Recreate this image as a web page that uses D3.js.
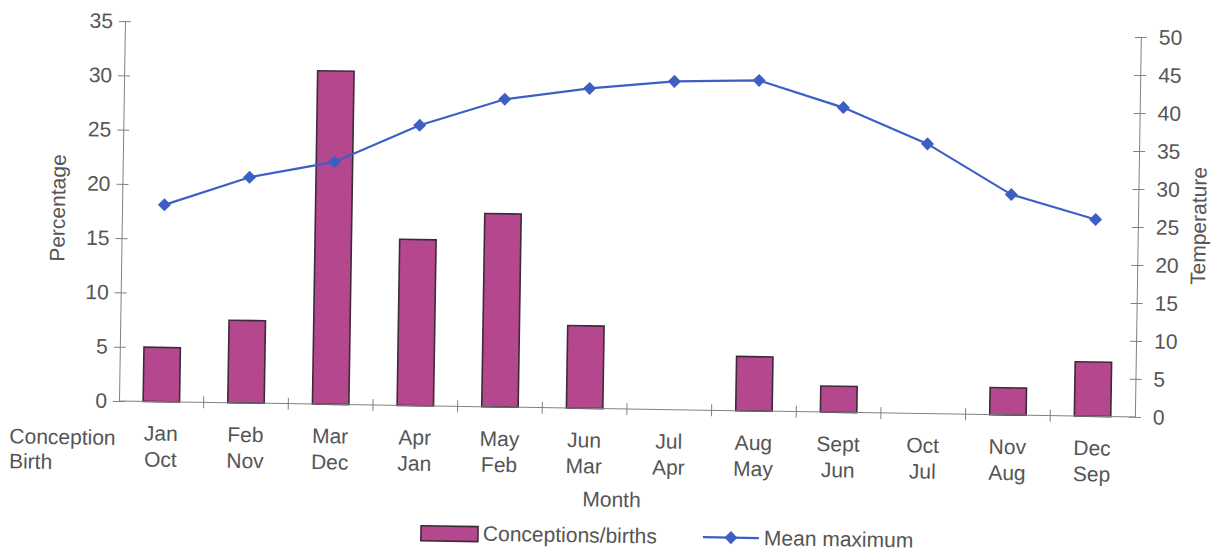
<!DOCTYPE html>
<html>
<head>
<meta charset="utf-8">
<script src="https://cdn.jsdelivr.net/npm/d3@7"></script>
<style>
  body { margin: 0; background: #fff; }
  svg text { font-family: "Liberation Sans", Arial, sans-serif; fill: #555; }
</style>
</head>
<body>
<svg id="chart" width="1211" height="550"></svg>
<script>
// Month of conception and the matching month of birth
const conceptionMonths = ["Jan", "Feb", "Mar", "Apr", "May", "Jun", "Jul", "Aug", "Sept", "Oct", "Nov", "Dec"];
const birthMonths = ["Oct", "Nov", "Dec", "Jan", "Feb", "Mar", "Apr", "May", "Jun", "Jul", "Aug", "Sep"];

// Share of conceptions/births per month (%)
const conceptionsPct = [5.0, 7.6, 30.7, 15.3, 17.8, 7.6, 0, 5.0, 2.4, 0, 2.5, 5.0];
// Mean maximum temperature per month
const meanMaxTemp = [25.9, 29.7, 31.9, 36.9, 40.5, 42.1, 43.2, 43.5, 40.1, 35.5, 29.0, 25.9];

const pctTicks = [0, 5, 10, 15, 20, 25, 30, 35];
const tempTicks = [0, 5, 10, 15, 20, 25, 30, 35, 40, 45, 50];

const legendLabels = ["Conceptions/births", "Mean maximum"];

const barColor = "#b5478e";
const barStroke = "#3d2a3a";
const lineColor = "#3d5fc4";
const axisColor = "#808080";
const fontSize = "21px";

const plot = { left: 119, right: 1135, top: 21, bottom: 401 };

const svg = d3.select("#chart");
// whole figure sits slightly tilted on the page
const g = svg.append("g")
  .attr("transform", `rotate(0.9, ${plot.left}, ${plot.bottom})`);

const x = d3.scaleBand()
  .domain(conceptionMonths)
  .range([plot.left, plot.right])
  .padding(0);

const yPct = d3.scaleLinear().domain([0, 35]).range([plot.bottom, plot.top]);
const yTemp = d3.scaleLinear().domain([0, 50]).range([plot.bottom, plot.top]);

const barFrac = 0.43;
const bw = x.bandwidth();

// Bars
g.append("g")
  .selectAll("rect")
  .data(conceptionMonths.map((m, i) => ({ m, v: conceptionsPct[i] })).filter(d => d.v > 0))
  .join("rect")
  .attr("x", d => x(d.m) + bw * (1 - barFrac) / 2)
  .attr("width", bw * barFrac)
  .attr("y", d => yPct(d.v))
  .attr("height", d => yPct(0) - yPct(d.v))
  .attr("fill", barColor)
  .attr("stroke", barStroke)
  .attr("stroke-width", 1.6);

// Left axis (percentage)
const leftAxis = g.append("g")
  .attr("transform", `translate(${plot.left},0)`)
  .call(d3.axisLeft(yPct).tickValues(pctTicks).tickSizeInner(6).tickSizeOuter(0).tickPadding(6));
leftAxis.selectAll(".tick line").attr("x1", 6).attr("x2", -6);

// Right axis (temperature)
const rightAxis = g.append("g")
  .attr("transform", `translate(${plot.right},0)`)
  .call(d3.axisRight(yTemp).tickValues(tempTicks).tickSizeInner(6).tickSizeOuter(0).tickPadding(12));
rightAxis.selectAll(".tick line").attr("x1", -6).attr("x2", 6);

[leftAxis, rightAxis].forEach(a => {
  a.select(".domain").attr("stroke", axisColor);
  a.selectAll(".tick line").attr("stroke", axisColor);
  a.selectAll(".tick text").style("font-size", fontSize).attr("fill", "#555");
});

// Category axis along the bottom
g.append("line")
  .attr("x1", plot.left).attr("x2", plot.right)
  .attr("y1", plot.bottom).attr("y2", plot.bottom)
  .attr("stroke", axisColor);

g.append("g")
  .selectAll("line")
  .data(conceptionMonths.slice(1))
  .join("line")
  .attr("x1", d => x(d)).attr("x2", d => x(d))
  .attr("y1", plot.bottom - 6).attr("y2", plot.bottom + 6)
  .attr("stroke", axisColor);

const catLabels = g.append("g").style("font-size", fontSize).attr("text-anchor", "middle");
catLabels.selectAll("text.conc")
  .data(conceptionMonths)
  .join("text")
  .attr("class", "conc")
  .attr("x", d => x(d) + bw / 2)
  .attr("y", plot.bottom + 39)
  .text(d => d);
catLabels.selectAll("text.birth")
  .data(birthMonths)
  .join("text")
  .attr("class", "birth")
  .attr("x", (d, i) => x(conceptionMonths[i]) + bw / 2)
  .attr("y", plot.bottom + 65)
  .text(d => d);

g.append("text").attr("x", 10).attr("y", 445).style("font-size", fontSize).text("Conception");
g.append("text").attr("x", 10).attr("y", 470).style("font-size", fontSize).text("Birth");

// Axis titles
g.append("text")
  .attr("transform", `translate(62,209) rotate(-90)`)
  .attr("text-anchor", "middle")
  .style("font-size", fontSize)
  .text("Percentage");

g.append("text")
  .attr("transform", `translate(1203,209) rotate(-90)`)
  .attr("text-anchor", "middle")
  .style("font-size", fontSize)
  .text("Temperature");

g.append("text")
  .attr("x", 613).attr("y", 499)
  .attr("text-anchor", "middle")
  .style("font-size", fontSize)
  .text("Month");

// Temperature line with diamond markers
const linePts = conceptionMonths.map((m, i) => [x(m) + bw / 2, yTemp(meanMaxTemp[i])]);
g.append("path")
  .attr("d", d3.line()(linePts))
  .attr("fill", "none")
  .attr("stroke", lineColor)
  .attr("stroke-width", 2.2);

const diamond = d3.symbol().type(d3.symbolSquare).size(85);
g.append("g")
  .selectAll("path")
  .data(linePts)
  .join("path")
  .attr("d", diamond)
  .attr("transform", d => `translate(${d[0]},${d[1]}) rotate(45)`)
  .attr("fill", lineColor);

// Legend
const legend = g.append("g").style("font-size", fontSize);
legend.append("rect")
  .attr("x", 423).attr("y", 521).attr("width", 57).attr("height", 15)
  .attr("fill", barColor).attr("stroke", barStroke).attr("stroke-width", 1.6);
legend.append("text").attr("x", 485).attr("y", 535).text(legendLabels[0]);
legend.append("line")
  .attr("x1", 705).attr("x2", 761).attr("y1", 528).attr("y2", 528)
  .attr("stroke", lineColor).attr("stroke-width", 2.2);
legend.append("path")
  .attr("d", diamond)
  .attr("transform", "translate(733,528) rotate(45)")
  .attr("fill", lineColor);
legend.append("text").attr("x", 766).attr("y", 535).text(legendLabels[1]);
</script>
</body>
</html>
